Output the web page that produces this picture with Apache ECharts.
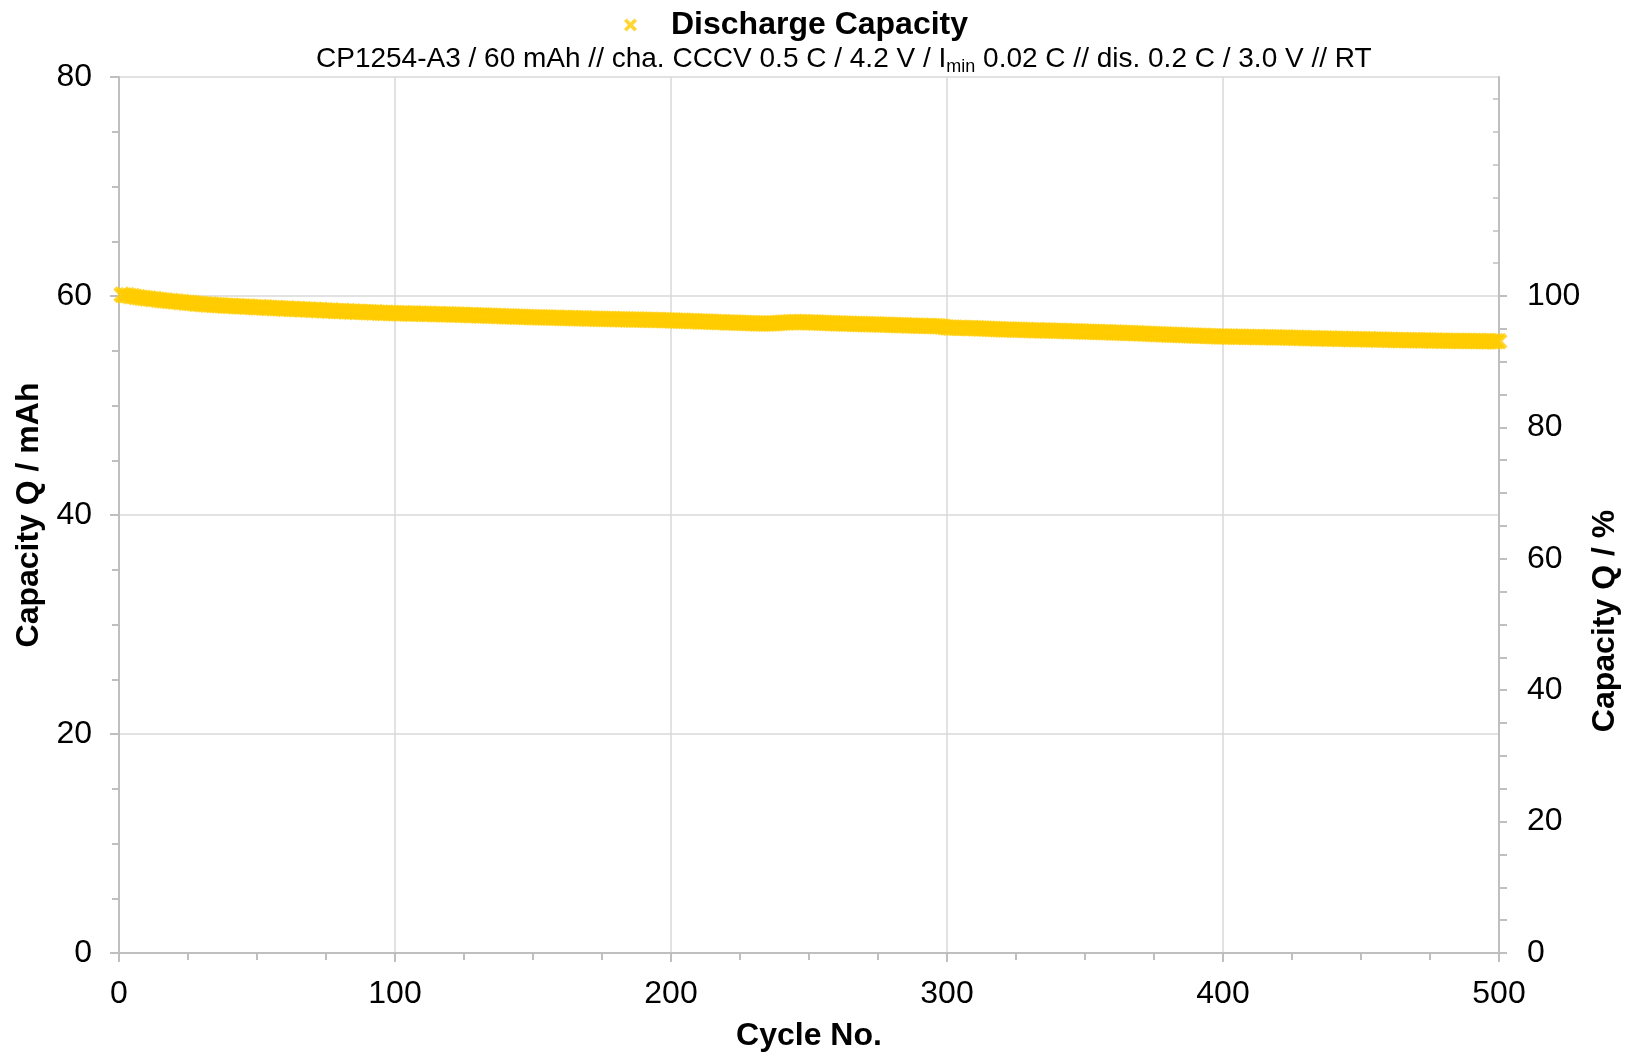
<!DOCTYPE html>
<html>
<head>
<meta charset="utf-8">
<script src="https://cdn.jsdelivr.net/npm/echarts@6/dist/echarts.min.js"></script>
<style>
html,body{margin:0;padding:0;background:#fff;}
#chart{width:1625px;height:1053px;}
</style>
</head>
<body>
<div id="chart"></div>
<script>
// ---- data (cycle 1..500) ----
const seriesName = 'Discharge Capacity';
const subtitleA = 'CP1254-A3 / 60 mAh // cha. CCCV 0.5 C / 4.2 V / I';
const subtitleSub = 'min';
const subtitleB = ' 0.02 C // dis. 0.2 C / 3.0 V // RT';
const xTicks = [0, 100, 200, 300, 400, 500];
const leftTicks = [0, 20, 40, 60, 80];
const rightTicks = [0, 20, 40, 60, 80, 100];
const nominalCapacity = 60; // mAh = 100 %
const capacity = [
60.12,60.04,60.06,59.97,59.99,59.90,59.89,59.84,59.82,59.77,
59.78,59.71,59.72,59.65,59.64,59.60,59.59,59.54,59.54,59.49,
59.49,59.44,59.45,59.39,59.38,59.35,59.34,59.29,59.30,59.24,
59.25,59.21,59.23,59.18,59.17,59.15,59.16,59.12,59.11,59.09,
59.10,59.07,59.06,59.05,59.05,59.01,59.03,58.99,58.98,58.96,
58.97,58.94,58.96,58.91,58.92,58.89,58.91,58.87,58.86,58.84,
58.85,58.82,58.84,58.80,58.81,58.77,58.79,58.75,58.76,58.73,
58.74,58.71,58.72,58.68,58.69,58.66,58.68,58.63,58.64,58.61,
58.62,58.59,58.61,58.57,58.58,58.55,58.57,58.53,58.54,58.51,
58.52,58.49,58.51,58.47,58.48,58.45,58.47,58.43,58.44,58.42,
58.42,58.40,58.43,58.40,58.41,58.38,58.40,58.37,58.38,58.37,
58.37,58.35,58.37,58.34,58.34,58.35,58.32,58.33,58.32,58.30,
58.31,58.29,58.30,58.27,58.28,58.27,58.25,58.26,58.25,58.22,
58.23,58.21,58.21,58.19,58.19,58.19,58.16,58.17,58.16,58.13,
58.14,58.12,58.12,58.11,58.10,58.10,58.08,58.09,58.07,58.05,
58.06,58.04,58.05,58.03,58.03,58.03,58.01,58.02,58.01,57.99,
58.00,57.98,57.99,57.97,57.97,57.97,57.95,57.96,57.95,57.93,
57.94,57.92,57.93,57.91,57.91,57.91,57.89,57.90,57.89,57.87,
57.88,57.86,57.87,57.85,57.86,57.85,57.84,57.85,57.84,57.82,
57.83,57.81,57.82,57.80,57.80,57.80,57.78,57.79,57.78,57.76,
57.76,57.75,57.75,57.73,57.73,57.72,57.70,57.71,57.69,57.67,
57.68,57.66,57.66,57.64,57.64,57.63,57.61,57.62,57.60,57.58,
57.58,57.57,57.57,57.55,57.55,57.54,57.53,57.53,57.52,57.51,
57.50,57.50,57.49,57.49,57.48,57.49,57.50,57.52,57.54,57.56,
57.58,57.59,57.60,57.61,57.62,57.61,57.62,57.60,57.60,57.59,
57.59,57.57,57.57,57.55,57.55,57.53,57.53,57.51,57.51,57.49,
57.50,57.48,57.48,57.47,57.47,57.45,57.45,57.44,57.44,57.42,
57.43,57.41,57.41,57.40,57.40,57.38,57.38,57.37,57.37,57.35,
57.35,57.34,57.34,57.32,57.32,57.30,57.31,57.29,57.29,57.27,
57.28,57.26,57.27,57.25,57.25,57.24,57.24,57.22,57.18,57.13,
57.11,57.09,57.10,57.08,57.09,57.07,57.08,57.06,57.07,57.05,
57.05,57.03,57.03,57.01,57.01,56.99,56.99,56.97,56.97,56.95,
56.95,56.94,56.94,56.92,56.92,56.91,56.91,56.89,56.89,56.87,
56.88,56.86,56.87,56.85,56.85,56.84,56.84,56.83,56.83,56.81,
56.82,56.80,56.80,56.79,56.79,56.77,56.78,56.76,56.76,56.74,
56.74,56.73,56.73,56.71,56.71,56.69,56.70,56.68,56.68,56.66,
56.66,56.64,56.65,56.63,56.63,56.61,56.61,56.59,56.59,56.57,
56.57,56.55,56.55,56.53,56.53,56.51,56.51,56.49,56.49,56.47,
56.47,56.45,56.45,56.43,56.43,56.41,56.41,56.39,56.39,56.37,
56.37,56.36,56.36,56.34,56.34,56.32,56.33,56.31,56.31,56.29,
56.30,56.28,56.29,56.27,56.28,56.27,56.27,56.26,56.26,56.25,
56.26,56.24,56.25,56.23,56.24,56.23,56.23,56.22,56.22,56.21,
56.21,56.20,56.20,56.19,56.19,56.17,56.18,56.16,56.17,56.15,
56.15,56.14,56.14,56.13,56.13,56.11,56.12,56.10,56.11,56.09,
56.10,56.08,56.09,56.07,56.08,56.06,56.07,56.05,56.06,56.04,
56.05,56.03,56.04,56.02,56.03,56.01,56.02,56.00,56.01,55.99,
56.00,55.98,55.99,55.97,55.98,55.97,55.97,55.96,55.96,55.95,
55.95,55.94,55.95,55.93,55.94,55.92,55.93,55.92,55.92,55.91,
55.91,55.90,55.91,55.89,55.90,55.89,55.90,55.88,55.89,55.88,
55.88,55.87,55.88,55.86,55.87,55.86,55.87,55.85,55.86,55.86
];
// ---- build ----
const points = capacity.map((v, i) => [i + 1, v]);
const xSymbol = 'path://M0,2 L2,0 L5,3 L8,0 L10,2 L7,5 L10,8 L8,10 L5,7 L2,10 L0,8 L3,5 Z';
const FONT = '"Liberation Sans", Arial, sans-serif';
const axisGray = '#bfbfbf';
const gridGray = '#d9d9d9';
const leftMax = leftTicks[leftTicks.length - 1];
const rightMax = leftMax / nominalCapacity * 100;
const rightOutTicks = [];
for (let v = 0; v <= 100; v += 5) rightOutTicks.push(v);
const rightInTicks = [];
for (let v = 105; v < rightMax; v += 5) rightInTicks.push(v);

const chart = echarts.init(document.getElementById('chart'), null, {renderer: 'canvas'});
chart.setOption({
  animation: false,
  backgroundColor: '#ffffff',
  title: {
    text: '{a|' + subtitleA + '}{s|' + subtitleSub + '}{a|' + subtitleB + '}',
    left: 311, top: 38,
    textStyle: {
      fontWeight: 'normal',
      rich: {
        a: {fontFamily: FONT, fontSize: 28, fontWeight: 'normal', color: '#000', verticalAlign: 'middle'},
        s: {fontFamily: FONT, fontSize: 18, fontWeight: 'normal', color: '#000', padding: [15, 0, 0, 0]}
      }
    }
  },
  legend: {
    data: [seriesName],
    left: 619, top: 4,
    itemWidth: 13, itemHeight: 13,
    textStyle: {fontFamily: FONT, fontSize: 32, fontWeight: 'bold', color: '#000', padding: [0, 0, 0, 29]}
  },
  grid: {left: 119, right: 126, top: 77, bottom: 100, containLabel: false, outerBoundsMode: 'none'},
  xAxis: {
    type: 'value', min: xTicks[0], max: xTicks[xTicks.length - 1], interval: 100,
    name: 'Cycle No.', nameLocation: 'middle', nameGap: 67,
    nameTextStyle: {fontFamily: FONT, fontSize: 32, fontWeight: 'bold', color: '#000'},
    axisLine: {show: true, lineStyle: {color: axisGray, width: 2}},
    axisTick: {show: true, inside: false, length: 9, lineStyle: {color: axisGray, width: 2}},
    minorTick: {show: true, splitNumber: 4, length: 7, lineStyle: {color: axisGray, width: 2}},
    axisLabel: {margin: 25, fontFamily: FONT, fontSize: 32, color: '#000'},
    splitLine: {show: true, lineStyle: {color: gridGray, width: 1.5}}
  },
  yAxis: [
    {
      type: 'value', min: leftTicks[0], max: leftMax, interval: 20, position: 'left',
      name: 'Capacity Q / mAh', nameLocation: 'middle', nameGap: 72,
      nameTextStyle: {fontFamily: FONT, fontSize: 32, fontWeight: 'bold', color: '#000'},
      axisLine: {show: true, lineStyle: {color: axisGray, width: 2}},
      axisTick: {show: true, inside: false, length: 9, lineStyle: {color: axisGray, width: 2}},
      minorTick: {show: true, splitNumber: 4, length: 7, lineStyle: {color: axisGray, width: 2}},
      axisLabel: {margin: 27, fontFamily: FONT, fontSize: 32, color: '#000'},
      splitLine: {show: true, lineStyle: {color: gridGray, width: 1.5}}
    },
    {
      type: 'value', min: 0, max: rightMax, interval: 5, position: 'right',
      axisLine: {show: true, onZero: false, lineStyle: {color: axisGray, width: 2}},
      axisTick: {show: true, inside: false, length: 8, customValues: rightOutTicks, lineStyle: {color: axisGray, width: 2}},
      axisLabel: {
        margin: 28, fontFamily: FONT, fontSize: 32, color: '#000', customValues: rightTicks,
        formatter: v => String(Math.round(v))
      },
      splitLine: {show: false}
    },
    {
      type: 'value', min: 0, max: rightMax, interval: 5, position: 'right',
      axisLine: {show: false, onZero: false},
      axisTick: {show: true, inside: true, length: 6, customValues: rightInTicks, lineStyle: {color: axisGray, width: 1.5}},
      axisLabel: {show: false},
      splitLine: {show: false}
    }
  ],
  graphic: [{
    type: 'text',
    x: 1605, y: 621, rotation: Math.PI / 2,
    style: {text: 'Capacity Q / %', fontFamily: FONT, fontSize: 32, fontWeight: 'bold', fill: '#000', align: 'center', verticalAlign: 'middle'}
  }],
  series: [{
    name: seriesName,
    type: 'scatter',
    yAxisIndex: 0,
    data: points,
    symbol: xSymbol,
    symbolSize: 17,
    itemStyle: {color: '#FFCC00'},
    clip: false
  }]
});
</script>
</body>
</html>
